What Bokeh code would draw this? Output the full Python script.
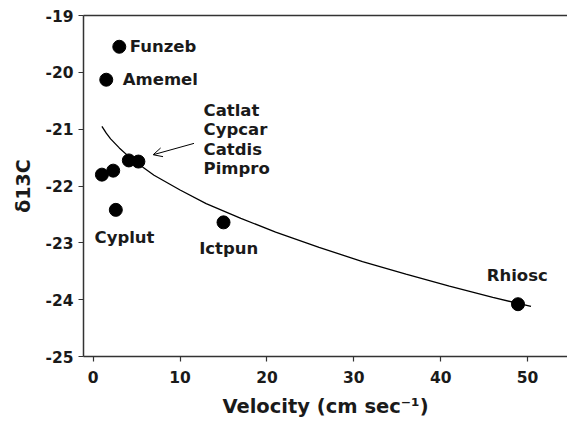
from bokeh.plotting import figure
from bokeh.models import (ColumnDataSource, Range1d, LinearAxis, FixedTicker,
                          Arrow, OpenHead)
from bokeh.core.properties import value
from bokeh.embed import file_html
from bokeh.resources import INLINE

# Species points (velocity cm/s, d13C)
species = ["Funzeb", "Amemel", "Catlat", "Cypcar", "Catdis", "Pimpro", "Cyplut", "Ictpun", "Rhiosc"]
velocity = [3.0, 1.5, 1.0, 2.3, 4.1, 5.2, 2.6, 15.0, 48.9]
d13c = [-19.55, -20.13, -21.80, -21.73, -21.55, -21.57, -22.42, -22.64, -24.08]

# Fitted curve
curve_x = [1.0, 1.5, 2, 3, 4, 5, 7, 10, 13, 17, 21, 26, 31, 36, 41, 46, 50.4]
curve_y = [-20.95, -21.07, -21.17, -21.33, -21.47, -21.59, -21.81, -22.07, -22.31,
           -22.57, -22.81, -23.08, -23.33, -23.55, -23.76, -23.96, -24.12]

# Text labels
label_text = ["Funzeb", "Amemel", "Catlat", "Cypcar", "Catdis", "Pimpro", "Cyplut", "Ictpun", "Rhiosc"]
label_x = [4.2, 3.4, 12.7, 12.7, 12.7, 12.7, 0.15, 12.2, 45.3]
label_y = [-19.55, -20.13, -20.67, -21.01, -21.36, -21.69, -22.91, -23.10, -23.58]

x_ticks = [0, 10, 20, 30, 40, 50]
y_ticks = [-25, -24, -23, -22, -21, -20, -19]

FONT = "DejaVu Sans"

p = figure(width=567, height=422, output_backend="svg", toolbar_location=None,
           x_range=Range1d(-1.12, 54.6), y_range=Range1d(-25, -19),
           min_border_left=83, min_border_right=0, min_border_top=15, min_border_bottom=66)
p.outline_line_color = None
p.grid.visible = False
p.background_fill_color = "white"
p.border_fill_color = "white"

for ax in (p.xaxis[0], p.yaxis[0]):
    ax.axis_line_color = "#333333"
    ax.axis_line_width = 1.5
    ax.major_tick_line_color = "#333333"
    ax.major_tick_line_width = 1.2
    ax.major_tick_out = 5
    ax.major_tick_in = 0
    ax.minor_tick_line_color = None
    ax.major_label_text_font = FONT
    ax.major_label_text_font_style = "bold"
    ax.major_label_text_color = "#1a1a1a"
    ax.axis_label_text_font = FONT
    ax.axis_label_text_font_style = "bold"
    ax.axis_label_text_color = "#1a1a1a"

p.xaxis.ticker = FixedTicker(ticks=x_ticks)
p.yaxis.ticker = FixedTicker(ticks=y_ticks)
p.yaxis.major_label_overrides = {t: "%d" % t for t in y_ticks}
p.xaxis.major_label_text_font_size = "15.5px"
p.yaxis.major_label_text_font_size = "15.5px"
p.xaxis.axis_label = "Velocity (cm sec\u207b\u00b9)"
p.yaxis.axis_label = "\u03b413C"
p.xaxis.axis_label_text_font_size = "19.5px"
p.yaxis.axis_label_text_font_size = "19px"
p.xaxis.major_label_standoff = 9
p.yaxis.major_label_standoff = 5
p.xaxis.axis_label_standoff = 9
p.yaxis.axis_label_standoff = 8

top = LinearAxis(ticker=FixedTicker(ticks=[]), axis_line_color="#333333", axis_line_width=1.5,
                 major_tick_line_color=None, minor_tick_line_color=None,
                 major_label_text_font_size="0px")
p.add_layout(top, "above")

p.line(curve_x, curve_y, line_color="black", line_width=1.3)

src = ColumnDataSource(dict(x=velocity, y=d13c))
p.scatter("x", "y", source=src, size=13, fill_color="black", line_color="black")

lsrc = ColumnDataSource(dict(x=label_x, y=label_y, t=label_text))
p.text("x", "y", text="t", source=lsrc, text_font=value(FONT), text_font_style="bold",
       text_font_size="16.5px", text_baseline="middle", text_align="left", text_color="#1a1a1a")

p.add_layout(Arrow(end=OpenHead(size=9, line_width=1, line_color="black"),
                   x_start=11.6, y_start=-21.25, x_end=6.9, y_end=-21.45,
                   line_width=1, line_color="black"))

open("out.html", "w").write(file_html(p, INLINE))
